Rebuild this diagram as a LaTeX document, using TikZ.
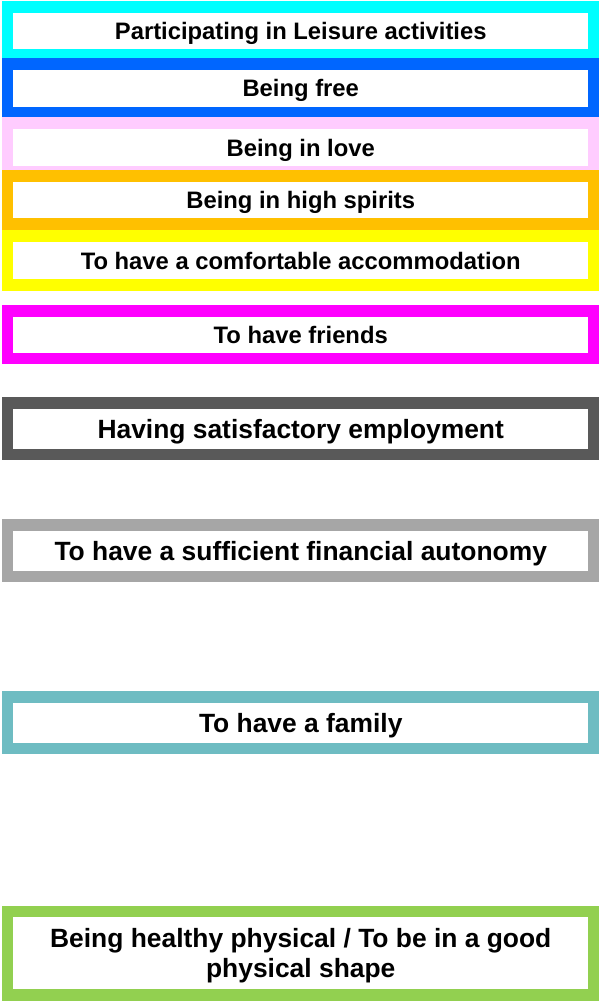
\documentclass[tikz,border=0pt]{standalone}
\usepackage{fontspec}
\setmainfont{Liberation Sans}
\definecolor{cA}{RGB}{0,255,255}
\definecolor{cB}{RGB}{0,102,255}
\definecolor{cC}{RGB}{255,204,255}
\definecolor{cD}{RGB}{255,192,0}
\definecolor{cE}{RGB}{255,255,0}
\definecolor{cF}{RGB}{255,0,255}
\definecolor{cG}{RGB}{89,89,89}
\definecolor{cH}{RGB}{166,166,166}
\definecolor{cI}{RGB}{110,188,194}
\definecolor{cJ}{RGB}{146,208,80}
\tikzset{
  bar/.style={draw=#1, line width=11.7pt, fill=white, rectangle, inner sep=0pt, outer sep=0pt,
    minimum width=586.5pt, anchor=north, text depth=0pt, font=\bfseries},
  small/.style={font=\fontsize{23.8}{28}\selectfont\bfseries, text height=17pt},
  big/.style={font=\fontsize{26.4}{30}\selectfont\bfseries, text height=18.9pt},
}
\begin{document}
\begin{tikzpicture}[x=1pt,y=1pt]
\useasboundingbox (0,0) rectangle (598,-1001);
\node[bar=cA, small, minimum height=48pt] (b1) at (300.75,-7) {Participating in Leisure activities};
\node[bar=cB, small, minimum height=49pt] (b2) at (300.75,-63.9) {Being free};
\node[bar=cC, small, minimum height=48.7pt] (b3) at (300.75,-123.2) {Being in love};
\node[bar=cD, small, minimum height=47.7pt] (b4) at (300.75,-176.2) {Being in high spirits};
\node[bar=cE, small, minimum height=48.7pt] (b5) at (300.75,-236.2) {To have a comfortable accommodation};
\node[bar=cF, small, minimum height=47.5pt] (b6) at (300.75,-311) {To have friends};
\node[bar=cG, big, minimum height=51.5pt] (b7) at (300.75,-403) {Having satisfactory employment};
\node[bar=cH, big, minimum height=51.5pt] (b8) at (300.75,-525) {To have a sufficient financial autonomy};
\node[bar=cI, big, minimum height=51.5pt] (b9) at (300.75,-697) {To have a family};
\node[bar=cJ, big, minimum height=83.5pt, align=center, text height=49pt, text depth=0pt] (b10) at (300.75,-911.5) {Being healthy physical / To be in a good\\physical shape};
\end{tikzpicture}
\end{document}
